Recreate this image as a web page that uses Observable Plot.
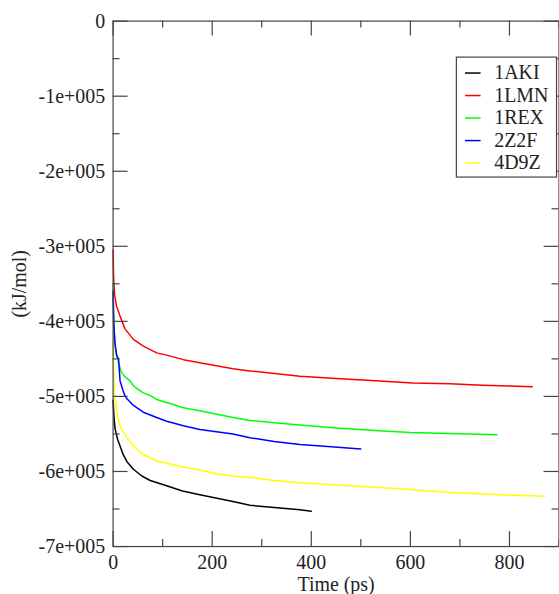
<!DOCTYPE html>
<html><head><meta charset="utf-8">
<script src="https://cdn.jsdelivr.net/npm/d3@7"></script>
<script src="https://cdn.jsdelivr.net/npm/@observablehq/plot@0.6"></script>
<style>
html,body{margin:0;padding:0;overflow:hidden;background:#fff;}
#chart{position:relative;width:559px;height:594px;overflow:hidden;}
#chart svg text{font-family:'Liberation Serif','DejaVu Serif',serif !important;}
</style>
</head><body><div id="chart"></div>
<script>
// ---- data ----
const seriesNames = ["1AKI", "1LMN", "1REX", "2Z2F", "4D9Z"];
const seriesColors = ["#000000", "#ff0000", "#00ff00", "#0000ff", "#ffff00"];

const t1AKI = [0, 2, 4, 9, 14, 20, 28, 41, 58, 75, 108, 140, 175, 242, 276, 325, 377, 400];
const v1AKI = [-5.05e5, -5.3e5, -5.43e5, -5.57e5, -5.66e5, -5.77e5, -5.87e5, -5.97e5, -6.06e5, -6.12e5, -6.19e5, -6.26e5, -6.31e5, -6.40e5, -6.45e5, -6.48e5, -6.51e5, -6.53e5];

const t1LMN = [0, 1, 3, 7, 14, 24, 41, 61, 88, 108, 142, 175, 242, 276, 377, 450, 530, 604, 680, 745, 800, 846];
const v1LMN = [-3.05e5, -3.4e5, -3.64e5, -3.8e5, -3.93e5, -4.1e5, -4.24e5, -4.33e5, -4.42e5, -4.45e5, -4.51e5, -4.55e5, -4.63e5, -4.66e5, -4.73e5, -4.76e5, -4.79e5, -4.82e5, -4.83e5, -4.85e5, -4.86e5, -4.87e5];

const t1REX = [0, 1, 3, 6, 11, 17, 24, 34, 41, 60, 75, 88, 108, 142, 175, 242, 276, 325, 377, 450, 544, 600, 659, 720, 775];
const v1REX = [-3.5e5, -3.95e5, -4.25e5, -4.42e5, -4.55e5, -4.68e5, -4.74e5, -4.79e5, -4.86e5, -4.95e5, -4.99e5, -5.04e5, -5.08e5, -5.15e5, -5.19e5, -5.28e5, -5.32e5, -5.35e5, -5.38e5, -5.42e5, -5.46e5, -5.48e5, -5.49e5, -5.50e5, -5.51e5];

const t2Z2F = [0, 1, 2, 4, 7, 11, 14, 20, 24, 28, 41, 61, 88, 108, 142, 175, 242, 276, 325, 377, 440, 500];
const v2Z2F = [-3.6e5, -3.9e5, -4.1e5, -4.3e5, -4.45e5, -4.5e5, -4.79e5, -4.92e5, -4.99e5, -5.03e5, -5.12e5, -5.21e5, -5.28e5, -5.33e5, -5.39e5, -5.44e5, -5.50e5, -5.55e5, -5.60e5, -5.64e5, -5.67e5, -5.70e5];

const t4D9Z = [0, 1, 3, 5, 7, 10, 14, 21, 28, 41, 60, 88, 108, 142, 175, 209, 242, 276, 325, 377, 477, 578, 679, 779, 871];
const v4D9Z = [-4.25e5, -4.7e5, -4.95e5, -5.08e5, -5.17e5, -5.30e5, -5.40e5, -5.48e5, -5.55e5, -5.66e5, -5.77e5, -5.86e5, -5.89e5, -5.94e5, -5.98e5, -6.03e5, -6.06e5, -6.08e5, -6.12e5, -6.15e5, -6.19e5, -6.23e5, -6.28e5, -6.31e5, -6.33e5];

const xMajorTicks = [0, 200, 400, 600, 800];
const xMinorTicks = [100, 300, 500, 700, 900];
const yMajorTicks = [0, -1e5, -2e5, -3e5, -4e5, -5e5, -6e5, -7e5];
const yTickLabels = ["0", "-1e+005", "-2e+005", "-3e+005", "-4e+005", "-5e+005", "-6e+005", "-7e+005"];
const yMinorTicks = [-0.5e5, -1.5e5, -2.5e5, -3.5e5, -4.5e5, -5.5e5, -6.5e5];
const xLabel = "Time (ps)";
const yLabel = "(kJ/mol)";

// ---- build table ----
const seriesT = [t1AKI, t1LMN, t1REX, t2Z2F, t4D9Z];
const seriesV = [v1AKI, v1LMN, v1REX, v2Z2F, v4D9Z];
const rows = [];
seriesNames.forEach((name, i) => {
  seriesT[i].forEach((t, j) => rows.push({series: name, t, v: seriesV[i][j]}));
});

// ---- layout ----
const W = 561, H = 594, mL = 113, mR = 0.5, mT = 20.7, mB = 46;
const iW = W - mL - mR, iH = H - mT - mB;
const axisColor = "#444";
const font = "'Liberation Serif', 'DejaVu Serif', serif";

const plot = Plot.plot({
  width: W, height: H,
  marginLeft: mL, marginRight: mR, marginTop: mT, marginBottom: mB,
  style: {fontFamily: font, fontSize: "20px", color: "#222", background: "#fff", overflow: "visible"},
  x: {domain: [0, 900]},
  y: {domain: [-7e5, 0]},
  color: {domain: seriesNames, range: seriesColors},
  marks: [
    Plot.line(rows, {x: "t", y: "v", stroke: "series", z: "series", strokeWidth: 1.5}),
    Plot.frame({stroke: axisColor, strokeWidth: 1.2}),
    // inward ticks on all four sides
    Plot.ruleX(xMajorTicks, {x: d => d, insetTop: iH - 15, stroke: axisColor, strokeWidth: 1.2}),
    Plot.ruleX(xMajorTicks, {x: d => d, insetBottom: iH - 15, stroke: axisColor, strokeWidth: 1.2}),
    Plot.ruleX(xMinorTicks, {x: d => d, insetTop: iH - 7, stroke: axisColor, strokeWidth: 1.2}),
    Plot.ruleX(xMinorTicks, {x: d => d, insetBottom: iH - 7, stroke: axisColor, strokeWidth: 1.2}),
    Plot.ruleY(yMajorTicks, {y: d => d, insetRight: iW - 15, stroke: axisColor, strokeWidth: 1.2}),
    Plot.ruleY(yMajorTicks, {y: d => d, insetLeft: iW - 15, stroke: axisColor, strokeWidth: 1.2}),
    Plot.ruleY(yMinorTicks, {y: d => d, insetRight: iW - 7, stroke: axisColor, strokeWidth: 1.2}),
    Plot.ruleY(yMinorTicks, {y: d => d, insetLeft: iW - 7, stroke: axisColor, strokeWidth: 1.2}),
    Plot.axisX({ticks: xMajorTicks, tickSize: 0, tickPadding: 8, tickFormat: d => String(d), fontFamily: font,
      label: xLabel, labelAnchor: "center", labelArrow: "none", labelOffset: 45}),
    Plot.axisY({ticks: yMajorTicks, tickSize: 0, tickPadding: 8, fontFamily: font,
      tickFormat: d => yTickLabels[yMajorTicks.indexOf(d)],
      label: yLabel, labelAnchor: "center", labelArrow: "none", labelOffset: 102})
  ]
});

// ---- legend (xmgrace-style box) ----
const svg = d3.select(plot);
const lg = svg.append("g").attr("class", "legend").attr("text-anchor", "start");
const box = {x: 458, y: 57.3, w: 100.5, h: 120.4};
lg.append("rect").attr("x", box.x).attr("y", box.y).attr("width", box.w).attr("height", box.h)
  .attr("fill", "#fff").attr("stroke", axisColor).attr("stroke-width", 1.2);
const row0 = 73.3, rowStep = 22.6;
seriesNames.forEach((name, i) => {
  const y = row0 + i * rowStep;
  lg.append("line").attr("x1", 466.7).attr("x2", 482.3).attr("y1", y).attr("y2", y)
    .attr("stroke", seriesColors[i]).attr("stroke-width", 1.5);
  lg.append("text").attr("x", 496).attr("y", y).attr("dy", "0.32em").attr("text-anchor", "start")
    .attr("fill", "#222").attr("font-family", font).attr("font-size", 20).text(name);
});

document.getElementById("chart").appendChild(plot);
</script>
</body></html>
